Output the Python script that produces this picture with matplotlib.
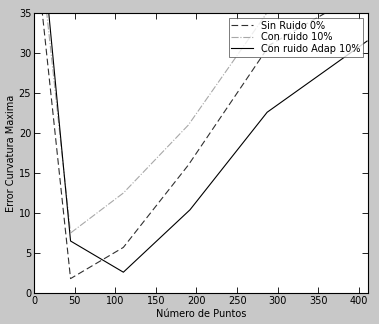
import matplotlib
matplotlib.use("Agg")
import matplotlib.pyplot as plt

x = [5, 45, 110, 190, 290, 410]
sin_ruido = [40.0, 1.8, 5.7, 16.0, 31.0, 38.0]
con_ruido = [45.0, 7.5, 12.5, 21.0, 35.5, 45.0]
adap = [49.0, 6.5, 2.6, 10.4, 22.6, 31.5]
adap_x = [5, 45, 110, 192, 287, 410]

labels = ["Sin Ruido 0%", "Con ruido 10%", "Con ruido Adap 10%"]
xticks = list(range(0, 401, 50))
yticks = list(range(0, 36, 5))

fig = plt.figure(figsize=(3.79, 3.24), dpi=100, facecolor="#c8c8c8")
ax = fig.add_axes([0.0897, 0.0957, 0.881, 0.864])
ax.set_facecolor("white")

ax.plot(x, sin_ruido, "--", color="#303030", lw=0.8, dashes=(6, 3), label=labels[0])
ax.plot(x, con_ruido, "-.", color="#a8a8a8", lw=0.8, label=labels[1])
ax.plot(adap_x, adap, "-", color="black", lw=0.8, label=labels[2])

ax.set_xlim(0, 411)
ax.set_ylim(0, 35)
ax.set_xticks(xticks)
ax.set_yticks(yticks)
ax.tick_params(direction="in", top=True, right=True, labelsize=7, length=4, width=0.6, pad=2)
for s in ax.spines.values():
    s.set_linewidth(0.8)
ax.set_xlabel("Número de Puntos", fontsize=7, labelpad=2)
ax.set_ylabel("Error Curvatura Maxima", fontsize=7, labelpad=2)

leg = ax.legend(loc="upper right", fontsize=7, frameon=True, fancybox=False,
                borderaxespad=0.5, handlelength=2.2, labelspacing=0.15,
                borderpad=0.3, handletextpad=0.8)
leg.get_frame().set_edgecolor("#404040")
leg.get_frame().set_linewidth(0.6)

fig.savefig("out.png", dpi=100, facecolor=fig.get_facecolor())
